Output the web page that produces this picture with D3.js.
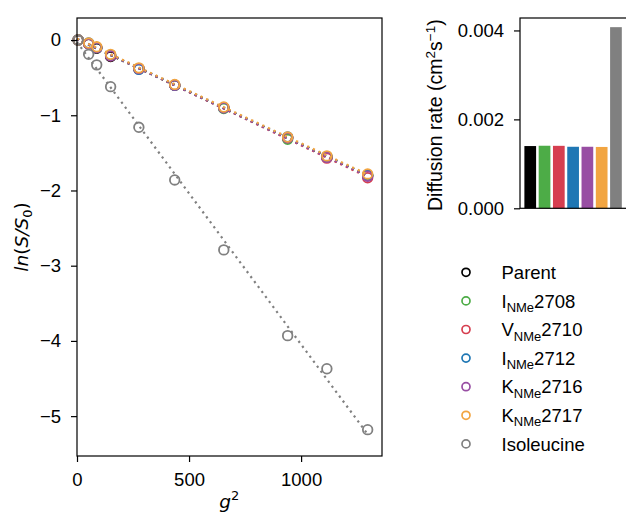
<!DOCTYPE html>
<html>
<head>
<meta charset="utf-8">
<script src="https://cdn.jsdelivr.net/npm/d3@7"></script>
<style>
  html, body { margin: 0; padding: 0; background: #fff; }
  svg { display: block; }
  text { font-family: "Liberation Sans", Arial, Helvetica, sans-serif; }
  .math { font-family: "DejaVu Sans", sans-serif; }
</style>
</head>
<body>
<svg id="chart" width="626" height="517"></svg>
<script>
// Squared gradient strength for each acquisition
const g2 = [5, 52, 88, 150, 276, 436, 655, 940, 1115, 1297];

// ln(S/S0) attenuation for each compound
const parentVals     = [0, -0.05, -0.11, -0.22, -0.38, -0.60, -0.90, -1.30, -1.56, -1.80];
const i2708Vals      = [0, -0.05, -0.10, -0.20, -0.38, -0.60, -0.91, -1.32, -1.55, -1.80];
const v2710Vals      = [0, -0.05, -0.10, -0.21, -0.38, -0.60, -0.90, -1.30, -1.57, -1.83];
const i2712Vals      = [0, -0.04, -0.10, -0.20, -0.39, -0.60, -0.90, -1.29, -1.55, -1.80];
const k2716Vals      = [0, -0.05, -0.10, -0.21, -0.38, -0.60, -0.90, -1.30, -1.56, -1.81];
const k2717Vals      = [0, -0.04, -0.09, -0.19, -0.37, -0.59, -0.89, -1.29, -1.54, -1.78];
const isoleucineVals = [0, -0.19, -0.33, -0.62, -1.16, -1.86, -2.79, -3.93, -4.37, -5.18];

// Fitted diffusion rates (cm^2 s^-1)
const diffusion = [0.00140, 0.001407, 0.001405, 0.001384, 0.001384, 0.00138, 0.004074];

// Legend labels: base letter, subscript, suffix
const labels = [
  ["Parent", "", ""],
  ["I", "NMe", "2708"],
  ["V", "NMe", "2710"],
  ["I", "NMe", "2712"],
  ["K", "NMe", "2716"],
  ["K", "NMe", "2717"],
  ["Isoleucine", "", ""]
];
const colors = ["#000000", "#4dac47", "#d63f50", "#1f77b4", "#984ea3", "#f2a541", "#808080"];

const xTicks = [0, 500, 1000];
const yTicks = [0, -1, -2, -3, -4, -5];
const barTicks = [0, 0.002, 0.004];

const seriesVals = [parentVals, i2708Vals, v2710Vals, i2712Vals, k2716Vals, k2717Vals, isoleucineVals];

const FS = 18.5;
const svg = d3.select("#chart");

// ---------- attenuation panel ----------
const L = { left: 77, right: 382, top: 18, bottom: 456 };
const x = d3.scaleLinear().domain([0, 1361]).range([L.left, L.right]);
const y = d3.scaleLinear().domain([0.293, -5.53]).range([L.top, L.bottom]);

const plot = svg.append("g");

// least-squares line for a series
function fit(xs, ys) {
  const mx = d3.mean(xs), my = d3.mean(ys);
  let sxy = 0, sxx = 0;
  xs.forEach((v, i) => { sxy += (v - mx) * (ys[i] - my); sxx += (v - mx) * (v - mx); });
  const b = sxy / sxx;
  return { b, a: my - b * mx };
}

seriesVals.forEach((vals, si) => {
  const pts = g2.map((gv, i) => ({ x: gv, y: vals[i] }));
  const f = fit(g2, vals);
  const x0 = 0, x1 = d3.max(g2);
  plot.append("line")
    .attr("x1", x(x0)).attr("y1", y(f.a + f.b * x0))
    .attr("x2", x(x1)).attr("y2", y(f.a + f.b * x1))
    .attr("stroke", colors[si]).attr("stroke-width", 2.2)
    .attr("stroke-dasharray", "2.2,4");
  plot.selectAll(null).data(pts).enter().append("circle")
    .attr("cx", d => x(d.x)).attr("cy", d => y(d.y))
    .attr("r", 4.8).attr("fill", "none")
    .attr("stroke", colors[si]).attr("stroke-width", 1.8);
});

// frame
svg.append("rect")
  .attr("x", L.left).attr("y", L.top)
  .attr("width", L.right - L.left).attr("height", L.bottom - L.top)
  .attr("fill", "none").attr("stroke", "#000").attr("stroke-width", 1.2);

const xAxis = svg.append("g").attr("transform", `translate(0,${L.bottom})`)
  .call(d3.axisBottom(x).tickValues(xTicks).tickSize(6).tickPadding(10.5).tickSizeOuter(0)
    .tickFormat(d3.format("d")));
const yAxis = svg.append("g").attr("transform", `translate(${L.left},0)`)
  .call(d3.axisLeft(y).tickValues(yTicks).tickSize(6).tickPadding(10).tickSizeOuter(0)
    .tickFormat(d3.format("d")));
[xAxis, yAxis].forEach(a => {
  a.select(".domain").remove();
  a.selectAll("line").attr("stroke", "#000").attr("stroke-width", 1.2);
  a.selectAll("text").attr("font-size", FS).attr("fill", "#000")
    .attr("font-family", "'Liberation Sans', Arial, sans-serif");
});

// axis titles
const xl = svg.append("text").attr("class", "math")
  .attr("x", x(680)).attr("y", 508).attr("text-anchor", "middle").attr("font-size", FS);
xl.append("tspan").attr("font-style", "italic").text("g");
xl.append("tspan").attr("font-size", 13).attr("dy", -8).text("2");

const yl = svg.append("text").attr("class", "math")
  .attr("transform", `translate(28,${(L.top + L.bottom) / 2}) rotate(-90)`)
  .attr("text-anchor", "middle").attr("font-size", FS);
yl.append("tspan").attr("font-style", "italic").text("ln");
yl.append("tspan").text("(");
yl.append("tspan").attr("font-style", "italic").text("S/S");
yl.append("tspan").attr("font-size", 13).attr("dy", 4).text("0");
yl.append("tspan").attr("dy", -4).text(")");

// ---------- diffusion rate panel ----------
const B = { left: 520, top: 18, bottom: 208.3 };
const bx = d3.scaleBand().domain(d3.range(diffusion.length)).range([530.2 - 7.1, 616 + 7.1]).paddingInner(0.18).paddingOuter(0.09);
const step = bx.step();
const bRight = B.left + step * (diffusion.length - 1 + 1.48);
const by = d3.scaleLinear().domain([0, 0.00428]).range([B.bottom, B.top]);

svg.append("g").selectAll("rect").data(diffusion).enter().append("rect")
  .attr("x", (d, i) => bx(i)).attr("width", bx.bandwidth())
  .attr("y", d => by(d)).attr("height", d => by(0) - by(d))
  .attr("fill", (d, i) => colors[i]);

svg.append("rect")
  .attr("x", B.left).attr("y", B.top)
  .attr("width", bRight - B.left).attr("height", B.bottom - B.top)
  .attr("fill", "none").attr("stroke", "#000").attr("stroke-width", 1.2);

const bAxis = svg.append("g").attr("transform", `translate(${B.left},0)`)
  .call(d3.axisLeft(by).tickValues(barTicks).tickSize(6).tickPadding(10).tickSizeOuter(0)
    .tickFormat(d3.format(".3f")));
bAxis.select(".domain").remove();
bAxis.selectAll("line").attr("stroke", "#000").attr("stroke-width", 1.2);
bAxis.selectAll("text").attr("font-size", FS).attr("fill", "#000")
  .attr("font-family", "'Liberation Sans', Arial, sans-serif");

const bl = svg.append("text")
  .attr("transform", `translate(442,${(B.top + B.bottom) / 2 + 2}) rotate(-90)`)
  .attr("text-anchor", "middle").attr("font-size", 19.5);
bl.append("tspan").text("Diffusion rate (cm");
bl.append("tspan").attr("font-size", 13.5).attr("dy", -7).text("2");
bl.append("tspan").attr("dy", 7).text("s");
bl.append("tspan").attr("font-size", 13.5).attr("dy", -7).text("\u22121");
bl.append("tspan").attr("dy", 7).text(")");

// ---------- legend ----------
const legend = svg.append("g");
labels.forEach((lab, i) => {
  const ly = 272.3 + i * 28.6;
  legend.append("circle").attr("cx", 466).attr("cy", ly).attr("r", 4)
    .attr("fill", "none").attr("stroke", colors[i]).attr("stroke-width", 1.7);
  const t = legend.append("text").attr("x", 501.5).attr("y", ly + 6.6).attr("font-size", FS);
  t.append("tspan").text(lab[0]);
  if (lab[1]) {
    t.append("tspan").attr("font-size", 13).attr("dy", 4.5).text(lab[1]);
    t.append("tspan").attr("dy", -4.5).text(lab[2]);
  }
});
</script>
</body>
</html>
